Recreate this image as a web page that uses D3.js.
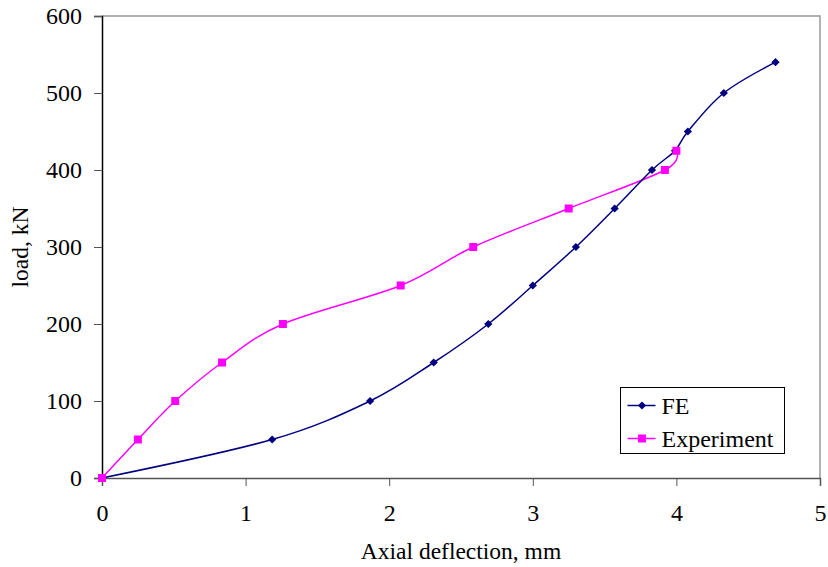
<!DOCTYPE html>
<html>
<head>
<meta charset="utf-8">
<script src="https://cdn.jsdelivr.net/npm/d3@7"></script>
<style>
  body { margin: 0; background: #fff; }
  svg text { font-family: "Liberation Serif", "Times New Roman", serif; fill: #000; }
</style>
</head>
<body>
<script>
// FE results (axial deflection mm, load kN)
var feX = [0, 1.185, 1.867, 2.31, 2.69, 3.00, 3.30, 3.57, 3.83, 3.99, 4.08, 4.33, 4.69];
var feY = [0, 50, 100, 150, 200, 250, 300, 350, 400, 425, 450, 500, 540];

// experiment
var expX = [0, 0.25, 0.51, 0.836, 1.26, 2.08, 2.585, 3.25, 3.92, 4.00];
var expY = [0, 50, 100, 150, 200, 250, 300, 350, 400, 425];

var xTicks = [0, 1, 2, 3, 4, 5];
var yTicks = [0, 100, 200, 300, 400, 500, 600];

var seriesNames = ["FE", "Experiment"];

var width = 828, height = 567;
var margin = {top: 16, right: 8, bottom: 89, left: 102};

var svg = d3.select("body").append("svg")
    .attr("width", width)
    .attr("height", height);

var x = d3.scaleLinear().domain([0, 5]).range([margin.left, width - margin.right]);
var y = d3.scaleLinear().domain([0, 600]).range([height - margin.bottom, margin.top]);

//plot frame (top and right in grey)
svg.append("path")
    .attr("d", "M" + x(0) + "," + y(600) + "H" + x(5) + "V" + y(0))
    .attr("fill", "none")
    .attr("stroke", "#999")
    .attr("stroke-width", 1.5);

//x axis
var xAxis = svg.append("g")
    .attr("transform", "translate(0," + y(0) + ")")
    .call(d3.axisBottom(x).tickValues(xTicks).tickSize(8).tickPadding(18).tickFormat(d3.format("d")));
xAxis.attr("font-family", null).attr("font-size", null);
xAxis.select(".domain").attr("stroke", "#555").attr("stroke-width", 1.5);
xAxis.selectAll(".tick line").attr("stroke", "#555");
xAxis.selectAll("text").style("font-size", "24px").attr("fill", "#000");

//y axis
var yAxis = svg.append("g")
    .attr("transform", "translate(" + x(0) + ",0)")
    .call(d3.axisLeft(y).tickValues(yTicks).tickSize(8).tickPadding(12).tickFormat(d3.format("d")));
yAxis.attr("font-family", null).attr("font-size", null);
yAxis.select(".domain").attr("stroke", "#000").attr("stroke-width", 1.5);
yAxis.selectAll(".tick line").attr("stroke", "#555");
yAxis.selectAll("text").style("font-size", "24px").attr("fill", "#000");

//axis titles
svg.append("text")
    .attr("x", (x(0) + x(5)) / 2)
    .attr("y", 559)
    .attr("text-anchor", "middle")
    .style("font-size", "23.5px")
    .text("Axial deflection, mm");

svg.append("text")
    .attr("transform", "translate(28," + y(300) + ") rotate(-90)")
    .attr("text-anchor", "middle")
    .style("font-size", "23.5px")
    .text("load, kN");

var line = d3.line()
    .x(function(d){ return x(d[0]); })
    .y(function(d){ return y(d[1]); })
    .curve(d3.curveCatmullRom.alpha(0));

var feData = feX.map(function(v, i){ return [v, feY[i]]; });
var expData = expX.map(function(v, i){ return [v, expY[i]]; });

//experiment series
svg.append("path")
    .datum(expData)
    .attr("fill", "none")
    .attr("stroke", "#ff00ff")
    .attr("stroke-width", 1.5)
    .attr("d", line);

//FE series
svg.append("path")
    .datum(feData)
    .attr("fill", "none")
    .attr("stroke", "#000080")
    .attr("stroke-width", 1.5)
    .attr("d", line);

// diamond = square turned 45 degrees
var diamond = d3.symbol().type(d3.symbolSquare).size(34);
var square = d3.symbol().type(d3.symbolSquare).size(64);

svg.selectAll(".fe-pt")
    .data(feData)
    .enter()
    .append("path")
    .attr("class", "fe-pt")
    .attr("transform", function(d){ return "translate(" + x(d[0]) + "," + y(d[1]) + ") rotate(45)"; })
    .attr("d", diamond)
    .attr("fill", "#000080");

svg.selectAll(".exp-pt")
    .data(expData)
    .enter()
    .append("path")
    .attr("class", "exp-pt")
    .attr("transform", function(d){ return "translate(" + x(d[0]) + "," + y(d[1]) + ")"; })
    .attr("d", square)
    .attr("fill", "#ff00ff");

//legend
var legend = svg.append("g").attr("transform", "translate(620.5,387.5)");
legend.append("rect")
    .attr("width", 164)
    .attr("height", 66)
    .attr("fill", "#fff")
    .attr("stroke", "#000")
    .attr("stroke-width", 1);

var legColors = ["#000080", "#ff00ff"];
var legSyms = [diamond, square];
var legRot = [45, 0];
seriesNames.forEach(function(name, i){
    var ly = 18 + i * 33;
    legend.append("line")
        .attr("x1", 7).attr("x2", 35)
        .attr("y1", ly).attr("y2", ly)
        .attr("stroke", legColors[i])
        .attr("stroke-width", 1.5);
    legend.append("path")
        .attr("transform", "translate(21.5," + ly + ") rotate(" + legRot[i] + ")")
        .attr("d", legSyms[i])
        .attr("fill", legColors[i]);
    legend.append("text")
        .attr("x", 41)
        .attr("y", ly + 8)
        .style("font-size", "24px")
        .text(name);
});
</script>
</body>
</html>
